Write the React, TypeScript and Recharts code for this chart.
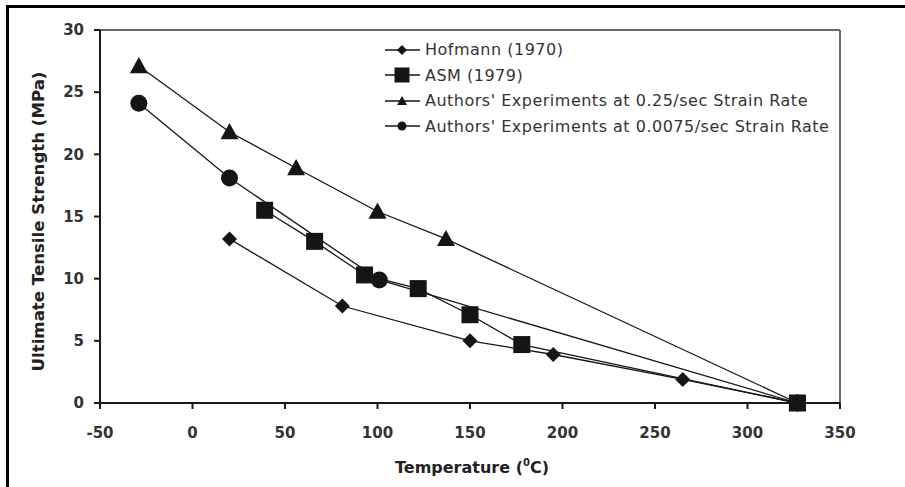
import { LineChart, Line, XAxis, YAxis, ReferenceLine, Legend, Label } from 'recharts'

// Hofmann (1970)
const hofmannTemp = [20, 81, 150, 195, 265, 327]
const hofmannUts = [13.2, 7.8, 5.0, 3.9, 1.9, 0]
// ASM (1979)
const asmTemp = [39, 66, 93, 122, 150, 178, 327]
const asmUts = [15.5, 13.0, 10.3, 9.2, 7.1, 4.7, 0]
// authors, 0.25/sec
const fastTemp = [-29, 20, 56, 100, 137, 327]
const fastUts = [27.1, 21.8, 18.9, 15.4, 13.2, 0]
// authors, 0.0075/sec
const slowTemp = [-29, 20, 101, 327]
const slowUts = [24.1, 18.1, 9.9, 0]

const xTicks = [-50, 0, 50, 100, 150, 200, 250, 300, 350]
const yTicks = [0, 5, 10, 15, 20, 25, 30]

const seriesNames = [
  'Hofmann (1970)',
  'ASM (1979)',
  "Authors' Experiments at 0.25/sec Strain Rate",
  "Authors' Experiments at 0.0075/sec Strain Rate",
]

type Kind = 'diamond' | 'square' | 'triangle' | 'circle'
const kinds: Kind[] = ['diamond', 'square', 'triangle', 'circle']
const plotSizes = [7.5, 8.5, 9, 8.5]
const legendSizes = [5, 7.5, 5, 4.5]

const toRows = (temps: number[], vals: number[]) => temps.map((t, i) => ({ t, v: vals[i] }))
const series = [
  toRows(hofmannTemp, hofmannUts),
  toRows(asmTemp, asmUts),
  toRows(fastTemp, fastUts),
  toRows(slowTemp, slowUts),
]

const INK = '#151515'
const FONT = '"DejaVu Sans", sans-serif'

function Marker({ kind, cx, cy, s }: { kind: Kind; cx: number; cy: number; s: number }) {
  if (cx == null || cy == null) return null
  if (kind === 'diamond')
    return <polygon points={`${cx},${cy - s} ${cx + s},${cy} ${cx},${cy + s} ${cx - s},${cy}`} fill={INK} />
  if (kind === 'square') return <rect x={cx - s} y={cy - s} width={2 * s} height={2 * s} fill={INK} />
  if (kind === 'triangle')
    return <polygon points={`${cx},${cy - s} ${cx + s},${cy + s * 0.8} ${cx - s},${cy + s * 0.8}`} fill={INK} />
  return <circle cx={cx} cy={cy} r={s} fill={INK} />
}

const renderLegend = () => (
  <div style={{ fontFamily: FONT, fontSize: 16, color: '#333', letterSpacing: 0.5, whiteSpace: 'nowrap' }}>
    {seriesNames.map((name, i) => (
      <div key={name} style={{ display: 'flex', alignItems: 'center', height: 25.5 }}>
        <svg width={37} height={20} style={{ display: 'block' }}>
          <line x1={0} y1={10} x2={35} y2={10} stroke={INK} strokeWidth={1.3} />
          <Marker kind={kinds[i]} cx={17} cy={10} s={legendSizes[i]} />
        </svg>
        <span style={{ marginLeft: 3 }}>{name}</span>
      </div>
    ))}
  </div>
)

export default function App() {
  const tickStyle = { fontFamily: FONT, fontSize: 15, fontWeight: 'bold', fill: '#333' }
  return (
    <div style={{ position: 'absolute', left: 0, top: 0, width: 905, height: 487, background: '#fff' }}>
      <div
        style={{
          position: 'absolute',
          left: 6,
          top: 5,
          width: 899,
          height: 482,
          borderLeft: '3px solid #000',
          borderTop: '3px solid #000',
        }}
      />
      <LineChart width={905} height={487} margin={{ top: 30, right: 65, left: 40, bottom: 54 }}>
        <XAxis
          type="number"
          dataKey="t"
          domain={[-50, 350]}
          ticks={xTicks}
          tickSize={6}
          tickMargin={18}
          stroke="#1a1a1a"
          strokeWidth={2}
          tick={tickStyle}
          height={30}
          allowDuplicatedCategory={false}
        >
          <Label
            content={({ viewBox }: any) => (
              <text
                x={viewBox.x + viewBox.width / 2 + 2}
                y={473}
                textAnchor="middle"
                fontFamily={FONT}
                fontWeight="bold"
                fontSize={16}
                fill="#222"
              >
                Temperature (<tspan dy={-7} fontSize={10}>0</tspan>
                <tspan dy={7}>C)</tspan>
              </text>
            )}
          />
        </XAxis>
        <YAxis
          type="number"
          dataKey="v"
          domain={[0, 30]}
          ticks={yTicks}
          tickSize={6}
          tickMargin={10}
          stroke="#1a1a1a"
          strokeWidth={2}
          tick={tickStyle}
          width={60}
        >
          <Label
            content={({ viewBox }: any) => {
              const x = viewBox.x - 2
              const y = viewBox.y + viewBox.height / 2 + 5
              return (
                <text
                  x={x}
                  y={y}
                  transform={`rotate(-90 ${x} ${y})`}
                  textAnchor="middle"
                  dominantBaseline="central"
                  fontFamily={FONT}
                  fontWeight="bold"
                  fontSize={16.6}
                  fill="#222"
                >
                  Ultimate Tensile Strength (MPa)
                </text>
              )
            }}
          />
        </YAxis>
        <ReferenceLine y={30} stroke="#666" strokeWidth={2} />
        <ReferenceLine x={350} stroke="#666" strokeWidth={2} />
        <Legend
          layout="vertical"
          align="center"
          verticalAlign="middle"
          content={renderLegend}
          wrapperStyle={{ left: 385, top: 37, width: 470, height: 110 }}
        />
        {series.map((rows, i) => (
          <Line
            key={seriesNames[i]}
            name={seriesNames[i]}
            data={rows}
            dataKey="v"
            stroke={INK}
            strokeWidth={1.3}
            isAnimationActive={false}
            dot={(p: any) => <Marker key={p.index} kind={kinds[i]} cx={p.cx} cy={p.cy} s={plotSizes[i]} />}
            activeDot={false}
          />
        ))}
      </LineChart>
    </div>
  )
}
